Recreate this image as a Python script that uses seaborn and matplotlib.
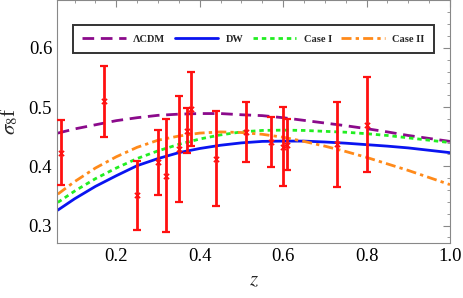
import numpy as np
import pandas as pd
import matplotlib
matplotlib.use("Agg")
import matplotlib.pyplot as plt
import seaborn as sns
from matplotlib.ticker import MultipleLocator

# ---- data ----
z_grid = [0.06, 0.10, 0.15, 0.20, 0.25, 0.30, 0.35, 0.40, 0.45, 0.50,
          0.55, 0.60, 0.65, 0.70, 0.75, 0.80, 0.85, 0.90, 0.95, 1.00]
lcdm = [0.456, 0.463, 0.470, 0.477, 0.482, 0.486, 0.488, 0.489, 0.489, 0.487,
        0.4855, 0.482, 0.4775, 0.473, 0.4685, 0.4635, 0.458, 0.452, 0.447, 0.442]
dw = [0.326, 0.345, 0.366, 0.384, 0.401, 0.413, 0.423, 0.430, 0.4355, 0.4395,
      0.442, 0.4425, 0.4425, 0.441, 0.439, 0.4365, 0.434, 0.431, 0.427, 0.423]
case1 = [0.339, 0.358, 0.379, 0.397, 0.413, 0.426, 0.437, 0.446, 0.453, 0.458,
         0.4605, 0.461, 0.4605, 0.459, 0.4575, 0.455, 0.452, 0.448, 0.444, 0.440]
case2 = [0.353, 0.374, 0.397, 0.416, 0.432, 0.444, 0.451, 0.456, 0.458, 0.457,
         0.454, 0.449, 0.442, 0.434, 0.425, 0.415, 0.404, 0.393, 0.381, 0.369]

z_obs = [0.067, 0.17, 0.25, 0.30, 0.32, 0.35, 0.37, 0.38, 0.44, 0.51,
         0.57, 0.60, 0.61, 0.73, 0.80]
fs8_obs = [0.423, 0.510, 0.351, 0.407, 0.384, 0.429, 0.460, 0.497, 0.413, 0.458,
           0.441, 0.433, 0.436, 0.437, 0.470]
fs8_err = [0.055, 0.060, 0.058, 0.055, 0.095, 0.089, 0.038, 0.063, 0.080, 0.050,
           0.043, 0.067, 0.043, 0.072, 0.080]

labels = ["\u039bCDM", "DW", "Case I", "Case II"]
colors = ["#8b0a8b", "#0a14f0", "#22ee22", "#ff8a1a"]
styles = [(0, (4.2, 2.4)), "-", (0, (1.6, 1.4)), (0, (3.6, 1.5, 1.2, 1.5))]

sns.set_theme(style="white")
plt.rcParams["font.family"] = ["Liberation Serif", "DejaVu Serif"]
plt.rcParams["mathtext.fontset"] = "stix"

fig = plt.figure(figsize=(4.63, 2.98), dpi=100)
ax = fig.add_axes([0.1231, 0.1856, 0.8488, 0.8130])

curves = pd.DataFrame({"z": z_grid, labels[0]: lcdm, labels[1]: dw,
                       labels[2]: case1, labels[3]: case2})
for lab, col, ls in zip(labels, colors, styles):
    sns.lineplot(data=curves, x="z", y=lab, color=col, linewidth=2.0,
                 linestyle=ls, label=lab, ax=ax)

obs = pd.DataFrame({"z": z_obs, "f": fs8_obs, "e": fs8_err})
ax.errorbar(obs["z"], obs["f"], yerr=obs["e"], fmt="none", ecolor="#ff1010",
            elinewidth=2.0, capsize=3.0, capthick=1.6, zorder=5)
sns.scatterplot(data=obs, x="z", y="f", marker="x", color="#ff1010", s=14,
                linewidth=1.2, ax=ax, zorder=6, legend=False)

ax.set_xlim(0.058, 1.0)
ax.set_ylim(0.271, 0.68)
ax.xaxis.set_major_locator(MultipleLocator(0.2))
ax.xaxis.set_minor_locator(MultipleLocator(0.05))
ax.yaxis.set_major_locator(MultipleLocator(0.1))
ax.yaxis.set_minor_locator(MultipleLocator(0.02))
ax.tick_params(which="both", direction="in", top=True, right=True,
               color="#888888", labelsize=13.5, labelcolor="black")
ax.tick_params(which="major", length=5, width=0.8)
ax.tick_params(which="minor", length=2.5, width=0.6)
ax.set_xticks([0.2, 0.4, 0.6, 0.8, 1.0])
ax.set_xticklabels(["0.2", "0.4", "0.6", "0.8", "1.0"])
ax.set_yticks([0.3, 0.4, 0.5, 0.6])
ax.set_yticklabels(["0.3", "0.4", "0.5", "0.6"])
for sp in ax.spines.values():
    sp.set_color("#888888")
    sp.set_linewidth(0.8)

ax.set_xlabel(r"$z$", fontsize=15, labelpad=5)
ax.set_ylabel(r"$\sigma_8$f", fontsize=15, labelpad=6)

leg = ax.legend(loc="center", bbox_to_anchor=(0.0407, 0.7816, 0.918, 0.1194),
                mode="expand", ncol=4, frameon=True, fancybox=False,
                handlelength=4.2, handletextpad=0.7, columnspacing=1.0,
                borderpad=0.9, borderaxespad=0,
                prop={"weight": "bold", "size": 7.5})
leg.get_frame().set_edgecolor("black")
leg.get_frame().set_linewidth(1.4)

fig.savefig("out.png", dpi=100)
